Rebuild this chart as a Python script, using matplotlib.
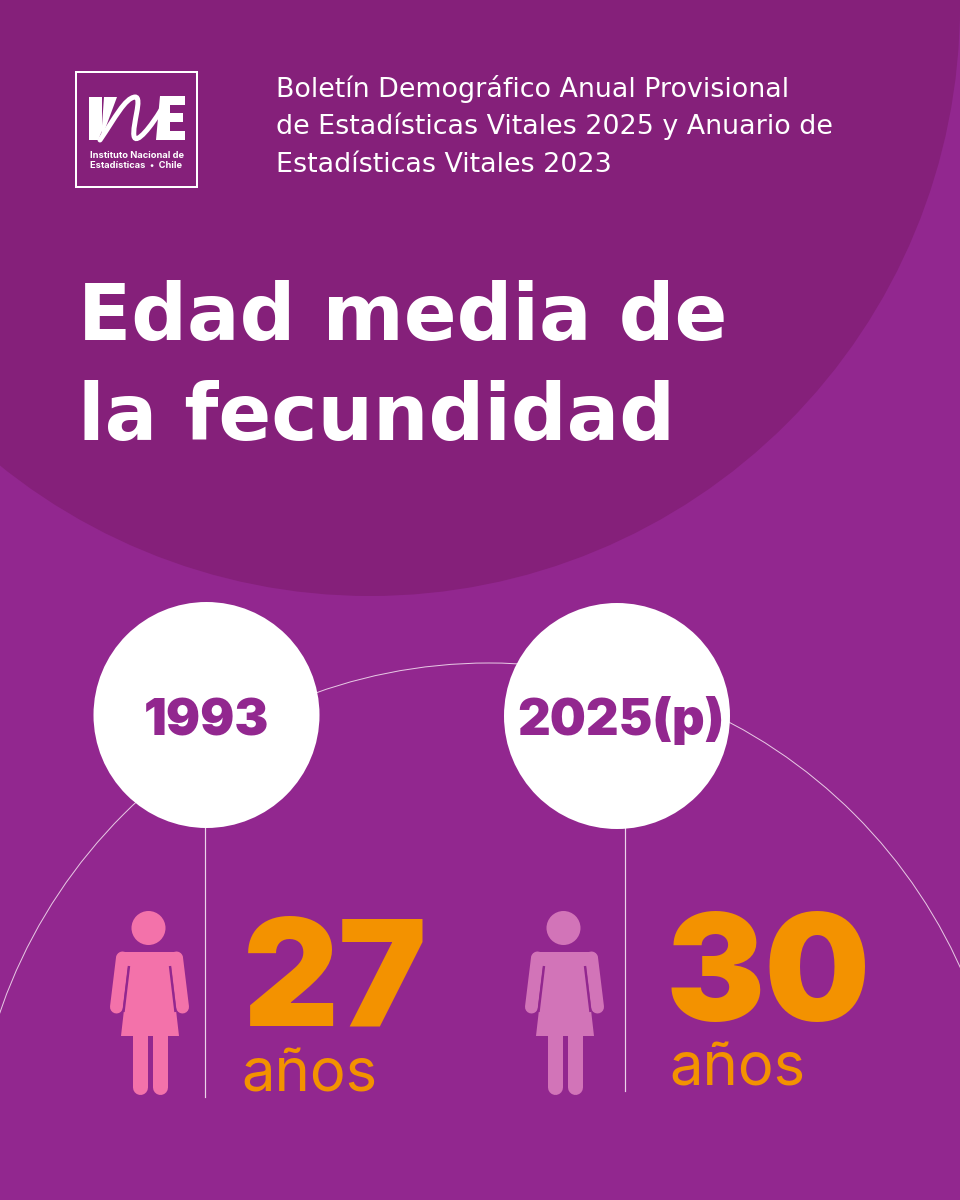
"""
Edad media de la fecundidad - INE Chile infographic
Run: python plot.py
"""

import matplotlib
matplotlib.use("Agg")
import matplotlib.pyplot as plt
from matplotlib.patches import Circle, Arc, Polygon, Rectangle, PathPatch
from matplotlib.path import Path

YEARS = ["1993", "2025(p)"]
AGES = ["27", "30"]
UNIT = "años"
TITLE_LINES = ["Edad media de", "la fecundidad"]
HEADER_LINES = [
    "Boletín Demográfico Anual Provisional",
    "de Estadísticas Vitales 2025 y Anuario de",
    "Estadísticas Vitales 2023",
]
LOGO_LINES = ["Instituto Nacional de", "Estadísticas  •  Chile"]

BG = "#92278f"
DARK = "#85207a"
ORANGE = "#f39200"
PINK = "#f372aa"
LILAC = "#d274b8"
FONT = "Inter"
WIDE_FONT = "DejaVu Sans"

PX = 0.72  # points per pixel at dpi 100


def draw_woman(ax, dx, color):
    # figure is drawn in the position of the left one, then shifted by dx
    ax.add_patch(Circle((148.5 + dx, 928), 17, color=color, lw=0))
    ax.plot([123 + dx, 176 + dx], [958.5, 958.5], color=color, lw=14 * PX, solid_capstyle="round")
    body = [(129, 958), (170, 958), (179, 1036), (121, 1036), (129, 966)]
    ax.add_patch(Polygon([(x + dx, y) for x, y in body], closed=True, color=color, lw=0))
    for x0, x1 in [(122.5, 116.5), (176.5, 182.5)]:
        ax.plot([x0 + dx, x1 + dx], [958, 1007], color=color, lw=13 * PX,
                solid_capstyle="round")
    # slits between arms and dress
    for x0, x1 in [(129, 123.5), (170, 175.5)]:
        ax.plot([x0 + dx, x1 + dx], [966, 1012], color=BG, lw=2.4 * PX, solid_capstyle="butt")
    for x in [139.5, 160]:
        ax.plot([x + dx, x + dx], [1030, 1087], color=color, lw=15 * PX,
                solid_capstyle="round")


def draw_logo(ax):
    ax.add_patch(Rectangle((76, 72), 121, 115, fill=False, ec="white", lw=2 * PX))
    # I, then the slanted first stroke of the N
    ax.add_patch(Polygon([(89, 97), (102, 97), (102, 131), (98, 140), (89, 140)],
                         color="white", lw=0))
    ax.add_patch(Polygon([(104, 97), (117, 97), (101, 140)], color="white", lw=0))
    swash = Path([(100, 140), (115, 118), (125, 98), (135, 97),
                  (143, 97), (132, 125), (134, 136), (136, 146), (152, 125), (161, 110)],
                 [Path.MOVETO, Path.CURVE4, Path.CURVE4, Path.CURVE4,
                  Path.CURVE4, Path.CURVE4, Path.CURVE4, Path.CURVE4, Path.CURVE4, Path.CURVE4])
    ax.add_patch(PathPatch(swash, fill=False, ec="white", lw=5 * PX, capstyle="round"))
    ax.add_patch(Polygon([(160, 96), (185, 96), (185, 105), (170, 105), (170, 113), (183, 113),
                          (183, 122), (170, 122), (170, 131), (185, 131), (185, 140), (156, 140)],
                         color="white", lw=0))
    ax.text(136.5, 158, LOGO_LINES[0], color="white", fontsize=6.7, fontweight="bold",
            family=FONT, ha="center", va="baseline")
    ax.text(136.5, 168.5, LOGO_LINES[1], color="white", fontsize=6.7, fontweight="bold",
            family=FONT, ha="center", va="baseline")


def main():
    fig = plt.figure(figsize=(9.6, 12), dpi=100, facecolor=BG)
    ax = fig.add_axes([0, 0, 1, 1])
    ax.set_xlim(0, 960)
    ax.set_ylim(1200, 0)
    ax.axis("off")

    ax.add_patch(Circle((370, 6), 590, color=DARK, lw=0))
    ax.add_patch(Arc((489, 1180), 1034, 1034, theta1=180, theta2=360, ec="#e7c8e4", lw=1 * PX))

    draw_logo(ax)
    for i, line in enumerate(HEADER_LINES):
        ax.text(276, 97 + i * 37.5, line, color="white", fontsize=19.4, family=WIDE_FONT,
                ha="left", va="baseline")
    for i, line in enumerate(TITLE_LINES):
        ax.text(78, 340 + i * 100, line, color="white", fontsize=56.2, fontweight="bold",
                family=WIDE_FONT, ha="left", va="baseline")

    # year bubbles with their stems
    centers = [(206.5, 715), (617, 716)]
    stems = [1097, 1091]
    stem_x = [205, 624.5]
    year_x = [206, 621]
    for (cx, cy), year, bottom, sx, tx in zip(centers, YEARS, stems, stem_x, year_x):
        ax.plot([sx, sx], [cy + 100, bottom], color="#ecd3ea", lw=1.2 * PX)
        ax.add_patch(Circle((cx, cy), 113, color="white", lw=0, zorder=3))
        ax.text(tx, 735, year, color=BG, fontsize=36.5, fontweight=900, family=FONT,
                ha="center", va="baseline", zorder=4)

    draw_woman(ax, 0, PINK)
    draw_woman(ax, 415, LILAC)

    ax.text(335, 1026, AGES[0], color=ORANGE, fontsize=107, fontweight=900, family=FONT,
            ha="center", va="baseline")
    ax.text(768, 1021, AGES[1], color=ORANGE, fontsize=107, fontweight=900, family=FONT,
            ha="center", va="baseline")
    ax.text(309, 1092, UNIT, color=ORANGE, fontsize=43, family=FONT, ha="center", va="baseline")
    ax.text(737, 1086, UNIT, color=ORANGE, fontsize=43, family=FONT, ha="center", va="baseline")

    fig.savefig("out.png", dpi=100, facecolor=BG)
    plt.close(fig)


if __name__ == "__main__":
    main()
